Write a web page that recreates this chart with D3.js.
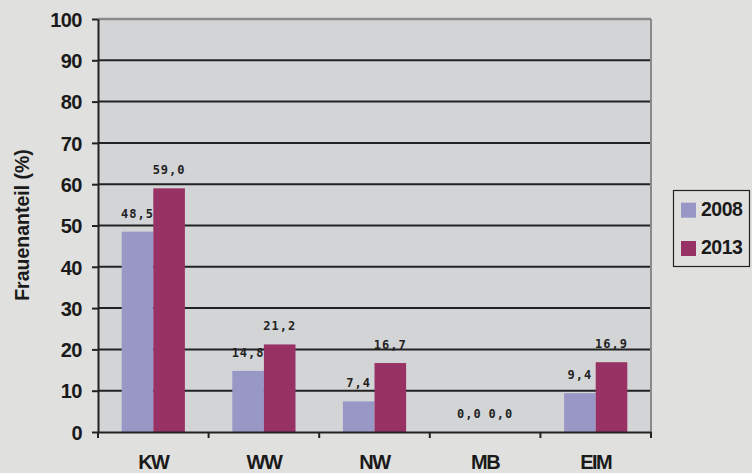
<!DOCTYPE html>
<html><head><meta charset="utf-8">
<script src="https://cdn.jsdelivr.net/npm/d3@7"></script>
<style>
body{margin:0;background:#e0e0de;}
svg{display:block;}
text{font-family:"Liberation Sans",Arial,sans-serif;}
</style></head><body>
<svg id="c" width="752" height="473"></svg>
<script>
const categories = ["KW","WW","NW","MB","EIM"];
const seriesNames = ["2008","2013"];
const values2008 = [48.5,14.8,7.4,0.0,9.4];
const values2013 = [59.0,21.2,16.7,0.0,16.9];
const yTicks = [0,10,20,30,40,50,60,70,80,90,100];
const colors = ["#9897c6","#993264"];

const svg = d3.select("#c");
const L=98, R=651, T=19, B=432;
svg.append("rect").attr("x",0).attr("y",0).attr("width",752).attr("height",473).attr("fill","#e0e0de");
svg.append("rect").attr("x",L).attr("y",T).attr("width",R-L).attr("height",B-T).attr("fill","#d3d4d6");

const x = d3.scaleBand().domain(categories).range([L,R]).paddingInner(0).paddingOuter(0);
const y = d3.scaleLinear().domain([0,100]).range([B,T]);
const inner = d3.scaleBand().domain(seriesNames).range([0,x.bandwidth()]).paddingOuter(0.75).paddingInner(0);

// gridlines
svg.append("g").selectAll("line").data(yTicks.filter(d=>d>0)).join("line")
  .attr("x1",L).attr("x2",R).attr("y1",d=>y(d)).attr("y2",d=>y(d))
  .attr("stroke",d=>d===100?"#8a8a8a":"#222").attr("stroke-width",d=>d===100?2.5:2);
// right border
svg.append("line").attr("x1",R).attr("x2",R).attr("y1",T).attr("y2",B).attr("stroke","#8a8a8a").attr("stroke-width",2);

const data = categories.map((c,i)=>({cat:c, vals:[values2008[i],values2013[i]]}));
const g = svg.append("g");
data.forEach(d=>{
  d.vals.forEach((v,j)=>{
    const bx = x(d.cat)+inner(seriesNames[j]);
    g.append("rect").attr("x",bx).attr("y",y(v)).attr("width",inner.bandwidth()).attr("height",B-y(v)).attr("fill",colors[j]);
    g.append("text").attr("x",bx+inner.bandwidth()/2).attr("y",y(v)-14)
      .attr("text-anchor","middle").attr("font-size",12).attr("font-weight","bold")
      .attr("letter-spacing","1px").attr("fill","#222")
      .style("font-family","'DejaVu Sans Mono',monospace")
      .text(v.toFixed(1).replace(".",","));
  });
});

// axes
const yAxis = svg.append("g").attr("transform",`translate(${L},0)`)
  .call(d3.axisLeft(y).tickValues(yTicks).tickSize(6).tickSizeOuter(0));
yAxis.select(".domain").attr("stroke","#222").attr("stroke-width",2);
yAxis.selectAll(".tick line").attr("stroke","#222").attr("stroke-width",2);
yAxis.selectAll(".tick text").attr("font-size",20).attr("font-weight","bold").attr("fill","#1a1a1a")
  .attr("x",-16).attr("dy","0.36em").attr("letter-spacing","-0.5px").style("font-family","'Liberation Sans',Arial,sans-serif");

const xAxis = svg.append("g").attr("transform",`translate(0,${B})`)
  .call(d3.axisBottom(x).tickSize(0).tickSizeOuter(0));
xAxis.select(".domain").attr("stroke","#222").attr("stroke-width",2);
xAxis.selectAll(".tick text").attr("font-size",20).attr("font-weight","bold").attr("fill","#1a1a1a")
  .attr("dy",0).attr("y",37).attr("letter-spacing","-1.5px").style("font-family","'Liberation Sans',Arial,sans-serif");
// x tick marks at category boundaries
svg.append("g").selectAll("line").data(d3.range(categories.length+1)).join("line")
  .attr("x1",i=>L+i*x.bandwidth()).attr("x2",i=>L+i*x.bandwidth())
  .attr("y1",B).attr("y2",B+6).attr("stroke","#222").attr("stroke-width",2);

// y label
svg.append("text").attr("transform","translate(29,225) rotate(-90)")
  .attr("text-anchor","middle").attr("font-size",19.5).attr("font-weight","bold").attr("fill","#1a1a1a")
  .text("Frauenanteil (%)");

// legend
const lg = svg.append("g");
lg.append("rect").attr("x",673.5).attr("y",190.5).attr("width",76).attr("height",76)
  .attr("fill","#e0e0de").attr("stroke","#222").attr("stroke-width",1.2);
seriesNames.forEach((s,j)=>{
  const yy = 210 + j*38.3;
  lg.append("rect").attr("x",681).attr("y",yy-7.3).attr("width",15).attr("height",15).attr("fill",colors[j]);
  lg.append("text").attr("x",701).attr("y",yy+6).attr("font-size",19.5).attr("font-weight","bold").attr("letter-spacing","-0.5px").attr("fill","#1a1a1a").text(s);
});
</script>
</body></html>
